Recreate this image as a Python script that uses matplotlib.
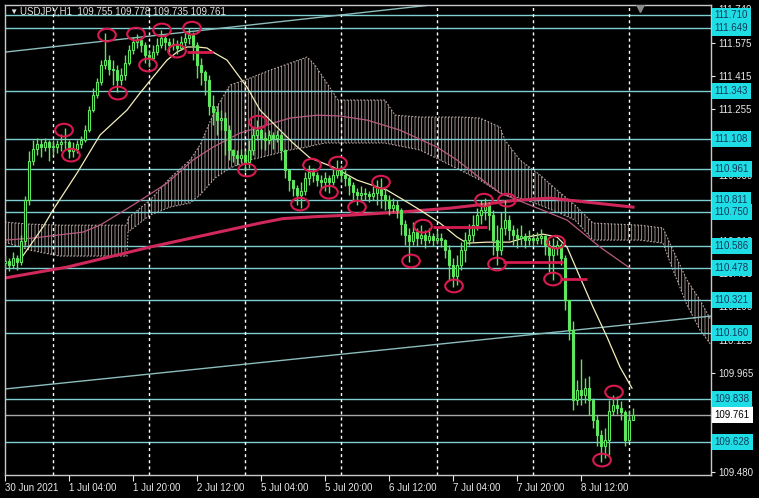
import matplotlib
matplotlib.use('Agg')
import matplotlib.pyplot as plt
import matplotlib.transforms as mtransforms
from matplotlib.patches import Ellipse
import numpy as np

plt.rcParams['font.family'] = ['Liberation Sans', 'DejaVu Sans']
plt.rcParams['hatch.linewidth'] = 0.6

symbol = 'USDJPY,H1'
header_ohlc = [109.755, 109.778, 109.735, 109.761]

# hourly candles, open of bar 0 then close / high / low of every bar
first_open = 110.50
close = [110.51, 110.49, 110.525, 110.505, 110.61, 110.81, 111.00, 111.06, 111.08, 111.07,
         111.09, 111.07, 111.07, 111.08, 111.09, 111.09, 111.05, 111.06, 111.08, 111.10,
         111.15, 111.25, 111.32, 111.385, 111.47, 111.49, 111.45, 111.445, 111.395, 111.42,
         111.48, 111.54, 111.58, 111.59, 111.565, 111.515, 111.50, 111.53, 111.565, 111.60,
         111.58, 111.565, 111.57, 111.55, 111.58, 111.60, 111.615, 111.565, 111.47, 111.435,
         111.395, 111.27, 111.24, 111.20, 111.21, 111.15, 111.055, 111.03, 111.015, 111.03,
         110.995, 111.055, 111.125, 111.15, 111.11, 111.10, 111.125, 111.11, 111.125, 111.055,
         110.955, 110.905, 110.865, 110.835, 110.855, 110.915, 110.945, 110.93, 110.905, 110.895,
         110.915, 110.895, 110.93, 110.955, 110.93, 110.915, 110.88, 110.85, 110.835, 110.845,
         110.84, 110.83, 110.845, 110.865, 110.835, 110.81, 110.77, 110.785, 110.76, 110.69,
         110.64, 110.61, 110.655, 110.625, 110.64, 110.615, 110.635, 110.615, 110.625, 110.615,
         110.565, 110.49, 110.44, 110.49, 110.565, 110.615, 110.64, 110.685, 110.735, 110.76,
         110.785, 110.735, 110.615, 110.565, 110.67, 110.71, 110.66, 110.64, 110.625, 110.635,
         110.615, 110.625, 110.615, 110.625, 110.635, 110.59, 110.54, 110.575, 110.59, 110.525,
         110.32, 110.175, 109.83, 109.88, 109.855, 109.89, 109.83, 109.735, 109.66, 109.61,
         109.635, 109.78, 109.81, 109.795, 109.775, 109.635, 109.735, 109.761]
high = [110.54, 110.525, 110.555, 110.54, 110.64, 110.83, 111.05, 111.10, 111.11, 111.105,
        111.11, 111.10, 111.10, 111.10, 111.13, 111.16, 111.10, 111.09, 111.10, 111.12,
        111.175, 111.27, 111.355, 111.405, 111.49, 111.625, 111.515, 111.49, 111.47, 111.455,
        111.515, 111.565, 111.605, 111.62, 111.60, 111.58, 111.54, 111.565, 111.60, 111.64,
        111.615, 111.60, 111.60, 111.59, 111.61, 111.63, 111.65, 111.63, 111.58, 111.50,
        111.445, 111.42, 111.32, 111.27, 111.25, 111.24, 111.175, 111.06, 111.055, 111.06,
        111.055, 111.10, 111.16, 111.20, 111.16, 111.14, 111.15, 111.14, 111.15, 111.14,
        111.06, 110.955, 110.905, 110.88, 110.895, 110.945, 110.98, 110.965, 110.945, 110.93,
        110.945, 110.93, 110.965, 111.005, 110.98, 110.955, 110.93, 110.895, 110.865, 110.875,
        110.865, 110.855, 110.875, 110.905, 110.915, 110.865, 110.835, 110.82, 110.81, 110.77,
        110.71, 110.67, 110.70, 110.67, 110.685, 110.66, 110.67, 110.65, 110.66, 110.65,
        110.62, 110.59, 110.525, 110.54, 110.605, 110.655, 110.69, 110.735, 110.77, 110.81,
        110.82, 110.80, 110.76, 110.685, 110.75, 110.81, 110.735, 110.685, 110.67, 110.685,
        110.65, 110.66, 110.645, 110.655, 110.665, 110.64, 110.615, 110.625, 110.615, 110.60,
        110.54, 110.32, 110.22, 109.93, 110.03, 109.94, 109.95, 109.84, 109.76, 109.685,
        109.695, 109.83, 109.855, 109.85, 109.825, 109.785, 109.785, 109.793]
low = [110.47, 110.46, 110.475, 110.465, 110.49, 110.59, 110.785, 110.98, 111.03, 111.02,
       111.05, 111.00, 111.03, 111.04, 111.05, 111.06, 111.015, 111.02, 111.04, 111.065,
       111.09, 111.14, 111.24, 111.305, 111.37, 111.45, 111.42, 111.37, 111.335, 111.37,
       111.395, 111.47, 111.52, 111.55, 111.53, 111.48, 111.46, 111.49, 111.515, 111.55,
       111.54, 111.53, 111.54, 111.52, 111.54, 111.56, 111.57, 111.49, 111.405, 111.37,
       111.32, 111.225, 111.175, 111.125, 111.15, 111.03, 111.005, 110.995, 110.98, 110.995,
       110.945, 110.965, 111.03, 111.10, 111.06, 111.055, 111.08, 111.06, 111.09, 111.005,
       110.915, 110.855, 110.83, 110.785, 110.77, 110.835, 110.88, 110.895, 110.875, 110.865,
       110.855, 110.845, 110.88, 110.915, 110.895, 110.875, 110.835, 110.81, 110.785, 110.81,
       110.81, 110.80, 110.81, 110.785, 110.77, 110.76, 110.735, 110.75, 110.72, 110.64,
       110.59, 110.505, 110.59, 110.585, 110.595, 110.575, 110.60, 110.585, 110.595, 110.58,
       110.525, 110.42, 110.385, 110.395, 110.467, 110.505, 110.59, 110.605, 110.66, 110.69,
       110.71, 110.66, 110.54, 110.49, 110.54, 110.64, 110.615, 110.59, 110.575, 110.59,
       110.575, 110.59, 110.585, 110.595, 110.595, 110.54, 110.455, 110.42, 110.54, 110.49,
       110.27, 110.125, 109.785, 109.81, 109.81, 109.82, 109.76, 109.695, 109.61, 109.53,
       109.55, 109.565, 109.76, 109.765, 109.735, 109.61, 109.625, 109.74]

# moving averages (bar index, price)
fast_ma_bar = [3.75, 9.5, 12, 18, 23.75, 30.5, 33.75, 37, 40.5, 43, 45.5, 48, 50.5, 52, 55.5,
               60.5, 63.75, 68.75, 72, 76.25, 82, 88, 95.5, 100.5, 103.75, 108.75, 113, 115.5,
               120.5, 126.25, 130.5, 134.5, 138, 140.5, 143.75, 147, 150.5, 153.75, 156.75]
fast_ma = [110.516, 110.677, 110.760, 110.940, 111.126, 111.248, 111.331, 111.409, 111.492,
           111.531, 111.556, 111.556, 111.551, 111.531, 111.492, 111.360, 111.248, 111.150,
           111.087, 111.014, 110.970, 110.906, 110.857, 110.799, 110.760, 110.696, 110.628,
           110.598, 110.603, 110.603, 110.628, 110.642, 110.628, 110.579, 110.432, 110.286,
           110.140, 109.993, 109.890]
mid_ma_bar = [0, 7, 19.5, 23.75, 32, 40.5, 47, 52, 58.75, 63.75, 71.25, 78, 83.75, 90.5,
              98.75, 108, 113, 118.75, 123.75, 131.25, 140.5, 148.75, 156.25]
mid_ma = [110.613, 110.623, 110.652, 110.686, 110.784, 110.891, 111.004, 111.067, 111.136,
          111.165, 111.209, 111.223, 111.219, 111.199, 111.150, 111.067, 111.004, 110.916,
          110.843, 110.784, 110.711, 110.579, 110.476]
slow_ma_bar = [0, 15.5, 36.25, 63.75, 69.5, 78, 86.25, 98.75, 111.25, 118, 128, 136.25, 157]
slow_ma = [110.428, 110.481, 110.579, 110.696, 110.718, 110.728, 110.735, 110.750, 110.769,
           110.784, 110.808, 110.818, 110.774]

# ichimoku cloud edges
cloud_bar = [0, 6.25, 13.75, 30.5, 30.75, 36.25, 41.25, 46.25, 48.75, 52.5, 56.25, 61.25,
             66.25, 71.25, 75.5, 77.5, 80, 83.25, 95, 97.5, 103.75, 113.75, 118.75, 123.75,
             125, 128.75, 133.75, 138, 142.5, 147, 158.75, 164.5, 167, 170.5, 173.75, 176.5]
span_top = [110.701, 110.691, 110.686, 110.686, 110.721, 110.808, 110.916, 111.004, 111.077,
            111.248, 111.370, 111.404, 111.443, 111.477, 111.507, 111.468, 111.394, 111.297,
            111.297, 111.223, 111.214, 111.214, 111.209, 111.165, 111.101, 111.004, 110.931,
            110.857, 110.784, 110.696, 110.686, 110.672, 110.564, 110.418, 110.320, 110.222]
span_bottom = [110.603, 110.564, 110.535, 110.535, 110.652, 110.735, 110.774, 110.794, 110.833,
               110.916, 110.965, 111.004, 111.028, 111.053, 111.067, 111.077, 111.087, 111.087,
               111.087, 111.077, 111.053, 110.955, 110.906, 110.843, 110.833, 110.818, 110.784,
               110.750, 110.711, 110.613, 110.613, 110.598, 110.467, 110.296, 110.174, 110.101]

# horizontal levels drawn by the trader, plus last price
levels = [111.710, 111.649, 111.343, 111.108, 110.961, 110.811, 110.750, 110.586,
          110.478, 110.321, 110.160, 109.838, 109.628]
last_price = 109.761
price_ticks = [111.740, 111.575, 111.415, 111.255, 111.095, 110.930, 110.770, 110.610,
               110.450, 110.290, 110.125, 109.965, 109.805, 109.645, 109.480]

# trend lines (bar, price)
upper_trend_bar = [0, 106]
upper_trend = [111.531, 111.760]
lower_trend_bar = [0, 176.5]
lower_trend = [109.886, 110.242]

# red circles and short red lines
mark_bar = [14.75, 16.5, 25.5, 28.25, 32.75, 35.75, 39.25, 43, 46.75, 60.5, 63.25, 73.75,
            76.75, 81, 83.25, 88, 94, 101.5, 104.5, 112.25, 119.75, 123, 125.5, 137.75,
            137, 149.25, 152.25]
mark_price = [111.150, 111.028, 111.614, 111.331, 111.619, 111.468, 111.639, 111.536, 111.648,
              110.955, 111.189, 110.789, 110.979, 110.847, 110.989, 110.774, 110.896, 110.511,
              110.681, 110.389, 110.808, 110.496, 110.808, 110.603, 110.423, 109.539, 109.871]
seg_start = [45.5, 107, 124.5, 138.75]
seg_end = [52, 120.5, 139.5, 145.5]
seg_price = [111.531, 110.677, 110.506, 110.423]

# time axis
time_ticks = [0, 16, 32, 48, 64, 80, 96, 112, 128, 144]
time_labels = ['30 Jun 2021', '1 Jul 04:00', '1 Jul 20:00', '2 Jul 12:00', '5 Jul 04:00',
               '5 Jul 20:00', '6 Jul 12:00', '7 Jul 04:00', '7 Jul 20:00', '8 Jul 12:00']
day_breaks = [12, 36, 60, 84, 108, 132, 156]
shift_marker_bar = 158.75

green = '#5ee65e'
cyan_line = '#7fcfd2'
cloud_col = (0.93, 0.84, 0.82, 0.75)

fig = plt.figure(figsize=(7.59, 4.98), dpi=100, facecolor='black')
ax = fig.add_axes([5 / 759, 23 / 498, 706 / 759, 470 / 498], facecolor='black')
ax.set_xlim(0, 176.5)
ax.set_ylim(109.466, 111.761)

# cloud: dense vertical hatch with dotted edges
ax.fill_between(cloud_bar, span_top, span_bottom, facecolor='none', edgecolor=cloud_col,
                hatch='|||||', linewidth=0, zorder=1)
ax.plot(cloud_bar, span_top, color=cloud_col, lw=0.8, ls=(0, (1.5, 1.5)), zorder=1)
ax.plot(cloud_bar, span_bottom, color=cloud_col, lw=0.8, ls=(0, (1.5, 1.5)), zorder=1)

for lv in levels:
    ax.axhline(lv, color=cyan_line, lw=1, zorder=1.2)
ax.axhline(last_price, color='#a8a8a8', lw=1, zorder=1.2)

for d in day_breaks:
    ax.axvline(d, color='white', lw=1, ls=(0, (2.2, 2.2)), zorder=1.3)

ax.plot(upper_trend_bar, upper_trend, color='#8cbcbc', lw=1, zorder=1.4)
ax.plot(lower_trend_bar, lower_trend, color='#8cbcbc', lw=1, zorder=1.4)

ax.plot(slow_ma_bar, slow_ma, color='#d0285a', lw=2.2, zorder=2)
ax.plot(mid_ma_bar, mid_ma, color='#b85a80', lw=0.9, zorder=2)
ax.plot(fast_ma_bar, fast_ma, color='#f3eeb8', lw=0.9, zorder=2)

# candles
x = np.arange(len(close))
c = np.array(close)
o = np.concatenate([[first_open], c[:-1]])
body_lo = np.minimum(o, c)
body_hi = np.maximum(o, c)
ax.vlines(x, np.minimum(low, body_lo), np.maximum(high, body_hi), color=green, lw=1, zorder=3)
bull = c >= o
ax.bar(x[bull], np.maximum(body_hi - body_lo, 0.004)[bull], bottom=body_lo[bull], width=0.6,
       color='black', edgecolor=green, linewidth=0.8, zorder=3.1)
ax.bar(x[~bull], np.maximum(body_hi - body_lo, 0.004)[~bull], bottom=body_lo[~bull], width=0.6,
       color=green, edgecolor=green, linewidth=0.8, zorder=3.1)

# annotations
for b, p in zip(mark_bar, mark_price):
    ax.add_patch(Ellipse((b, p), 4.4, 0.062, fill=False, edgecolor='#d81b4f', lw=1.5, zorder=4))
ax.hlines(seg_price, seg_start, seg_end, color='#d81b4f', lw=2, zorder=4)

ax.plot(shift_marker_bar, 111.745, marker='v', color='#8a8a8a', markersize=6, zorder=5)

# axes / ticks
for s in ax.spines.values():
    s.set_color('#c8c8c8')
    s.set_linewidth(1)
ax.yaxis.tick_right()
ax.set_yticks(price_ticks)
ax.set_yticklabels([f'{t:.3f}' for t in price_ticks])
ax.tick_params(axis='y', colors='#e8e8e8', labelsize=7, length=3, pad=2)
ax.set_xticks(time_ticks)
ax.set_xticklabels(time_labels)
ax.tick_params(axis='x', colors='#e8e8e8', labelsize=7, length=4, pad=2)
for lbl in ax.get_xticklabels():
    lbl.set_ha('left')

trans = mtransforms.blended_transform_factory(ax.transAxes, ax.transData)
for lv in levels:
    ax.text(1.005, lv, f'{lv:.3f}', transform=trans, ha='left', va='center', fontsize=7,
            color='#123a5a', bbox=dict(boxstyle='square,pad=0.3', fc='#1fdde5', ec='none'),
            zorder=6, clip_on=False)
ax.text(1.005, last_price, f'{last_price:.3f}', transform=trans, ha='left', va='center',
        fontsize=7, color='black', bbox=dict(boxstyle='square,pad=0.3', fc='white', ec='none'),
        zorder=6, clip_on=False)

fig.text(9 / 759, 1 - 12 / 498, '\u25bc', color='#e0e0e0', fontsize=6, va='center')
fig.text(20 / 759, 1 - 12 / 498, symbol + '  ' + ' '.join(f'{v:.3f}' for v in header_ohlc),
         color='#e0e0e0', fontsize=7, va='center')

fig.savefig('out.png', dpi=100, facecolor='black')
